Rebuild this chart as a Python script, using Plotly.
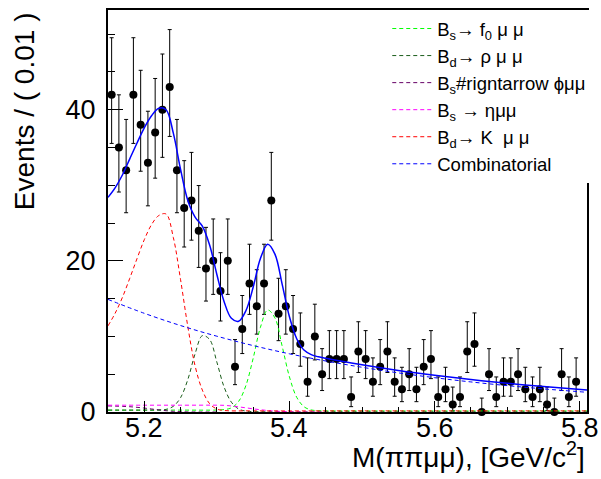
import math
import plotly.graph_objects as go

# ---------------- data ----------------
bin_centers = [round(5.155 + 0.01 * i, 3) for i in range(65)]
counts = [42, 35, 32, 42, 38, 33, 37, 40, 43, 32,
          27, 28, 24, 19, 20, 16, 20, 6, 11, 17,
          14, 17, 28, 13, 14, 11, 9, 4, 10, 5,
          7, 7, 7, 2, 8, 7, 4, 6, 8, 4,
          3, 5, 3, 6, 7, 2, 3, 1, 2, 8,
          9, 0, 5, 2, 4, 4, 5, 3, 2, 3,
          1, 0, 5, 2, 4]
bin_half_width = 0.005

# total fit (solid blue)
total_x = [5.15, 5.16, 5.17, 5.18, 5.19, 5.20, 5.21, 5.22, 5.23, 5.24,
           5.25, 5.26, 5.27, 5.28, 5.29, 5.30, 5.31, 5.32, 5.33, 5.34,
           5.35, 5.36, 5.37, 5.38, 5.39, 5.40, 5.41, 5.42, 5.43, 5.44,
           5.45, 5.50, 5.55, 5.60, 5.65, 5.70, 5.75, 5.81]
total_y = [28.4, 29.7, 31.4, 33.5, 35.6, 37.6, 39.2, 40.2, 40.0, 36.9,
           32.1, 28.0, 25.8, 24.6, 22.1, 18.2, 14.6, 12.4, 12.0, 13.4,
           16.5, 20.3, 22.2, 20.9, 16.9, 12.6, 9.7, 8.2, 7.6, 7.3,
           7.1, 6.25, 5.5, 4.86, 4.3, 3.8, 3.38, 2.9]

# Bs -> f0 mu mu (green)
f0_x = [5.15, 5.25, 5.30, 5.31, 5.32, 5.33, 5.34, 5.35, 5.36, 5.37,
        5.38, 5.39, 5.40, 5.41, 5.42, 5.43, 5.44, 5.50, 5.81]
f0_y = [0.25, 0.25, 0.26, 0.32, 0.55, 1.4, 3.5, 7.1, 11.2, 13.5,
        12.45, 8.7, 4.65, 1.95, 0.7, 0.28, 0.18, 0.15, 0.15]

# Bd -> rho mu mu (dark green)
rho_x = [5.15, 5.20, 5.22, 5.23, 5.24, 5.25, 5.26, 5.27, 5.28, 5.29,
         5.30, 5.31, 5.32, 5.33, 5.34, 5.35, 5.40, 5.81]
rho_y = [0.25, 0.25, 0.27, 0.35, 0.75, 1.9, 4.3, 7.7, 10.1, 9.6,
         6.6, 3.3, 1.3, 0.4, 0.12, 0.05, 0.03, 0.02]

# Bs -> phi mu mu (purple)
phi_x = [5.15, 5.16, 5.17, 5.18, 5.19, 5.20, 5.21, 5.22, 5.23, 5.24,
         5.25, 5.26, 5.30]
phi_y = [0.8, 0.78, 0.75, 0.7, 0.62, 0.52, 0.4, 0.28, 0.17, 0.09,
         0.04, 0.01, 0.0]

# Bs -> eta mu mu (magenta)
eta_x = [5.15, 5.20, 5.25, 5.30, 5.31, 5.32, 5.33, 5.34, 5.35, 5.36,
         5.37, 5.38, 5.39, 5.40, 5.41, 5.45]
eta_y = [0.9, 0.9, 0.9, 0.9, 0.88, 0.8, 0.68, 0.55, 0.42, 0.3,
         0.2, 0.12, 0.07, 0.03, 0.01, 0.0]

# Bd -> K mu mu (red)
kmm_x = [5.15, 5.16, 5.17, 5.18, 5.19, 5.20, 5.21, 5.22, 5.23, 5.24,
         5.25, 5.26, 5.27, 5.28, 5.29, 5.30, 5.31, 5.35, 5.50, 5.81]
kmm_y = [11.4, 13.1, 15.2, 17.7, 20.3, 22.8, 24.8, 26.0, 26.2, 23.1,
         17.5, 11.3, 6.1, 2.9, 1.1, 0.4, 0.2, 0.15, 0.15, 0.15]

# Combinatorial (blue dashed)
comb_x = [5.15, 5.20, 5.25, 5.30, 5.35, 5.40, 5.45, 5.50, 5.55, 5.60,
          5.65, 5.70, 5.75, 5.81]
comb_y = [14.9, 13.06, 11.44, 10.03, 8.79, 7.70, 6.75, 5.92, 5.18, 4.54,
          3.98, 3.49, 3.06, 2.61]

legend_names = [
    "B<sub>s</sub>\u2192 f<sub>0</sub> \u03bc \u03bc",
    "B<sub>d</sub>\u2192 \u03c1 \u03bc \u03bc",
    "B<sub>s</sub>#rigntarrow \u03d5\u03bc\u03bc",
    "B<sub>s</sub> \u2192 \u03b7\u03bc\u03bc",
    "B<sub>d</sub>\u2192 K \u00a0\u03bc \u03bc",
    "Combinatorial",
]

x_tick_vals = [5.2, 5.4, 5.6, 5.8]
x_tick_text = ["5.2", "5.4", "5.6", "5.8"]
x_title = "M(\u03c0\u03c0\u03bc\u03bc), [GeV/c<sup>2</sup>]"
y_title = "Events / ( 0.01 )"
x_range = [5.15, 5.81]
y_range = [0, 53.2]


# ---------------- Poisson (Garwood) 68% intervals ----------------
def pois_cdf(k, mu):
    if k < 0:
        return 0.0
    if mu <= 0:
        return 1.0
    s = 0.0
    for i in range(k + 1):
        s += math.exp(-mu + i * math.log(mu) - math.lgamma(i + 1))
    return s


def garwood(n, alpha=0.158655):
    lo_b, hi_b = float(n), n + 10.0 * math.sqrt(n + 1) + 10.0
    for _ in range(80):
        m = 0.5 * (lo_b + hi_b)
        if pois_cdf(n, m) > alpha:
            lo_b = m
        else:
            hi_b = m
    upper = 0.5 * (lo_b + hi_b)
    if n == 0:
        lower = 0.0
    else:
        lo_b, hi_b = 0.0, float(n)
        for _ in range(80):
            m = 0.5 * (lo_b + hi_b)
            if 1.0 - pois_cdf(n - 1, m) < alpha:
                lo_b = m
            else:
                hi_b = m
        lower = 0.5 * (lo_b + hi_b)
    return n - lower, upper - n


err_lo, err_hi = [], []
for c in counts:
    a, b = garwood(c)
    err_lo.append(a)
    err_hi.append(b)

# ---------------- figure ----------------
FONT = "Liberation Sans, Arial, Helvetica, sans-serif"
dash = "4px,3px"

fig = go.Figure()

fig.add_trace(go.Scatter(
    x=bin_centers, y=counts, mode="markers", showlegend=False,
    marker=dict(color="black", size=8, symbol="circle"),
    error_y=dict(type="data", symmetric=False, array=err_hi, arrayminus=err_lo,
                 color="black", thickness=1, width=2),
    error_x=dict(type="data", array=[bin_half_width] * len(counts),
                 color="black", thickness=1, width=0),
    cliponaxis=False,
))

components = [
    (f0_x, f0_y, "#00ff00", legend_names[0]),
    (rho_x, rho_y, "#1a5c1a", legend_names[1]),
    (phi_x, phi_y, "#660066", legend_names[2]),
    (eta_x, eta_y, "#ff00ff", legend_names[3]),
    (kmm_x, kmm_y, "#ff0000", legend_names[4]),
    (comb_x, comb_y, "#0000ff", legend_names[5]),
]
for cx, cy, col, name in components:
    fig.add_trace(go.Scatter(
        x=cx, y=cy, mode="lines", name=name,
        line=dict(color=col, width=1, dash=dash, shape="spline", smoothing=1.0),
    ))

fig.add_trace(go.Scatter(
    x=total_x, y=total_y, mode="lines", showlegend=False,
    line=dict(color="#0000ff", width=1.5, shape="spline", smoothing=1.0),
))

annotations = [
    dict(text=x_title, xref="paper", yref="paper", x=1.0, y=-0.106,
         xanchor="right", yanchor="middle", showarrow=False,
         font=dict(family=FONT, size=28, color="black")),
    dict(text=y_title, xref="paper", yref="paper", x=-0.175, y=1.0,
         xanchor="center", yanchor="top", textangle=-90, showarrow=False,
         font=dict(family=FONT, size=28, color="black")),
]
for v, t in zip(x_tick_vals, x_tick_text):
    annotations.append(dict(
        text=t, x=v, xref="x", y=-0.04, yref="paper",
        xanchor="center", yanchor="middle", showarrow=False,
        font=dict(family=FONT, size=27, color="black"),
    ))

fig.update_layout(
    width=601, height=479,
    margin=dict(l=108, r=14, t=8, b=67),
    paper_bgcolor="white", plot_bgcolor="white",
    font=dict(family=FONT, color="black"),
    legend=dict(
        x=0.583, y=1.0, xanchor="left", yanchor="top",
        bgcolor="white", borderwidth=0,
        font=dict(family=FONT, size=18.5, color="black"),
        tracegroupgap=0, itemwidth=40,
    ),
    xaxis=dict(
        range=x_range, showgrid=False, zeroline=False,
        showline=True, linecolor="black", linewidth=2, mirror=True,
        ticks="inside", ticklen=11, tickcolor="black", tickwidth=1,
        tickvals=x_tick_vals, showticklabels=False,
        minor=dict(dtick=0.05, ticks="inside", ticklen=5, tickcolor="black", tickwidth=1),
    ),
    yaxis=dict(
        range=y_range, showgrid=False, zeroline=False,
        showline=True, linecolor="black", linewidth=2, mirror=True,
        ticks="inside", ticklen=15, tickcolor="black", tickwidth=1,
        tick0=0, dtick=20, ticklabelstandoff=5,
        minor=dict(dtick=5, ticks="inside", ticklen=7, tickcolor="black", tickwidth=1),
        tickfont=dict(family=FONT, size=27, color="black"),
    ),
    annotations=annotations,
)

fig.write_html("out.html")
